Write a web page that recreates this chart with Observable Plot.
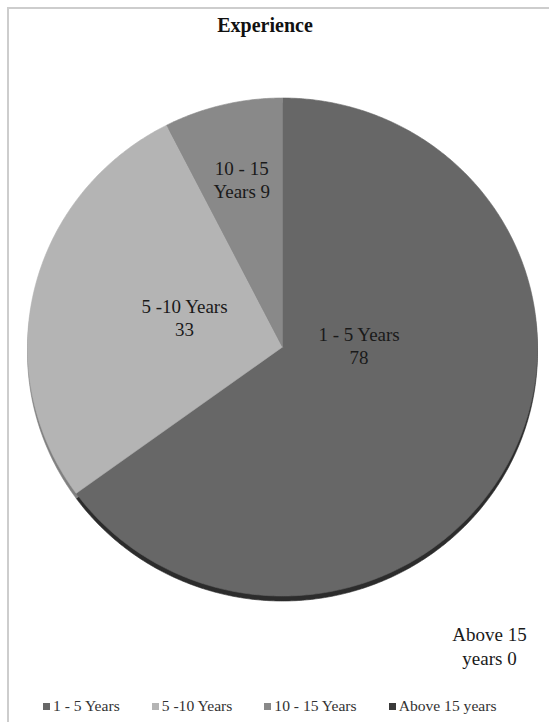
<!DOCTYPE html>
<html>
<head>
<meta charset="utf-8">
<script src="https://cdn.jsdelivr.net/npm/d3@7"></script>
<script src="https://cdn.jsdelivr.net/npm/@observablehq/plot@0.6"></script>
<style>
  html, body { margin: 0; padding: 0; background: #fff; }
  #page { position: relative; width: 549px; height: 722px; overflow: hidden; color: #1a1a1a; }
  #frame { position: absolute; left: 7px; top: 7px; right: -5px; bottom: -5px;
           border-left: 2px solid #cdcdcd; border-top: 2px solid #cdcdcd; pointer-events: none; }
  #title { height: 40px; box-sizing: border-box; padding-top: 13px; width: 530px;
           text-align: center; font-size: 20px; line-height: 24px; font-weight: bold; color: #111; }
  #chart svg { display: block; }
  #legend { height: 32px; display: flex; align-items: center; padding-left: 43px;
            font-size: 15.6px; color: #333; white-space: nowrap; }
  .item { display: flex; align-items: center; margin-right: 32px; }
  .sw { width: 7px; height: 7px; margin-right: 3px; }
</style>
</head>
<body>
<div id="page">
  <div id="frame"></div>
  <div id="title">Experience</div>
  <div id="chart"></div>
  <div id="legend"></div>
</div>
<script>
// Respondents by years of experience
const categories = ["1 - 5 Years", "5 -10 Years", "10 - 15 Years", "Above 15 years"];
const counts = [78, 33, 9, 0];
const faceColors = ["#676767", "#b4b4b4", "#898989", "#3a3a3a"];
const sideColors = ["#2c2c2c", "#808080", "#5a5a5a", "#222222"];

const serif = `"Liberation Serif", "Times New Roman", Times, serif`;
document.getElementById("page").style.fontFamily = serif;

const rows = categories.map((category, i) => ({
  category, count: counts[i], face: faceColors[i], side: sideColors[i]
}));

// Slice angles: start at 12 o'clock, clockwise, in data order
const slices = d3.pie().sort(null).value(d => d.count)(rows);

// Outline of each slice in unit coordinates (x = sin, y = cos)
const outlinePoints = [];
for (const s of slices) {
  if (s.endAngle <= s.startAngle) continue;
  const d = s.data;
  const n = Math.max(2, Math.ceil((s.endAngle - s.startAngle) / (Math.PI / 360)));
  outlinePoints.push({...d, x: 0, y: 0});
  for (let k = 0; k <= n; k++) {
    const a = s.startAngle + (s.endAngle - s.startAngle) * k / n;
    outlinePoints.push({...d, x: Math.sin(a), y: Math.cos(a)});
  }
  outlinePoints.push({...d, x: 0, y: 0});
}

// Wrap "category value" into lines no wider than maxWidth pixels
const labelSize = 19;
const ctx = document.createElement("canvas").getContext("2d");
function wrap(str, maxWidth) {
  ctx.font = `${labelSize}px ${serif}`;
  const words = str.split(" ");
  const lines = [];
  let line = "";
  for (const w of words) {
    const next = line ? line + " " + w : w;
    if (line && ctx.measureText(next).width > maxWidth) { lines.push(line); line = w; }
    else line = next;
  }
  lines.push(line);
  return lines.join("\n");
}

// Label anchors at the slice mid-angle, half way out
const labelRows = slices.map(s => {
  const mid = (s.startAngle + s.endAngle) / 2;
  return {
    category: s.data.category,
    text: wrap(`${s.data.category} ${s.data.count}`, 96),
    x: 0.5 * Math.sin(mid),
    y: 0.5 * Math.cos(mid)
  };
});

const labelStyle = {
  text: "text", fontSize: labelSize, fontFamily: serif,
  fill: "#1a1a1a", lineHeight: 1.22, textAnchor: "middle", lineAnchor: "middle"
};
const nudges = {
  "1 - 5 Years": {dx: -37, dy: -58.5},
  "5 -10 Years": {dx: 26, dy: -1},
  "10 - 15 Years": {dx: -11, dy: -47}
};

const labelMarks = labelRows.map(r => {
  if (r.category === "Above 15 years") {
    // the empty slice has its label set off in the lower right corner
    return Plot.text([r], {...labelStyle, frameAnchor: "bottom-right", dx: -48, dy: 49.5});
  }
  return Plot.text([r], {...labelStyle, x: "x", y: "y", ...nudges[r.category]});
});

const chart = Plot.plot({
  width: 549,
  height: 650,
  marginLeft: 27,
  marginRight: 12,
  marginTop: 57.5,
  marginBottom: 94.5,
  style: {fontFamily: serif},
  x: {domain: [-1, 1], axis: null},
  y: {domain: [-1, 1], axis: null},
  color: {type: "identity"},
  marks: [
    // pie rim, drawn a little lower so it shows under the top face
    Plot.line(outlinePoints, {x: "x", y: "y", z: "category", fill: "side", stroke: "side",
                              strokeWidth: 0.6, dy: 5}),
    // top face
    Plot.line(outlinePoints, {x: "x", y: "y", z: "category", fill: "face", stroke: "face",
                              strokeWidth: 0.6}),
    ...labelMarks
  ]
});
document.getElementById("chart").appendChild(chart);

// Legend
const legend = d3.select("#legend");
rows.forEach(r => {
  const item = legend.append("div").attr("class", "item");
  item.append("div").attr("class", "sw").style("background", r.face);
  item.append("span").text(r.category);
});
</script>
</body>
</html>
